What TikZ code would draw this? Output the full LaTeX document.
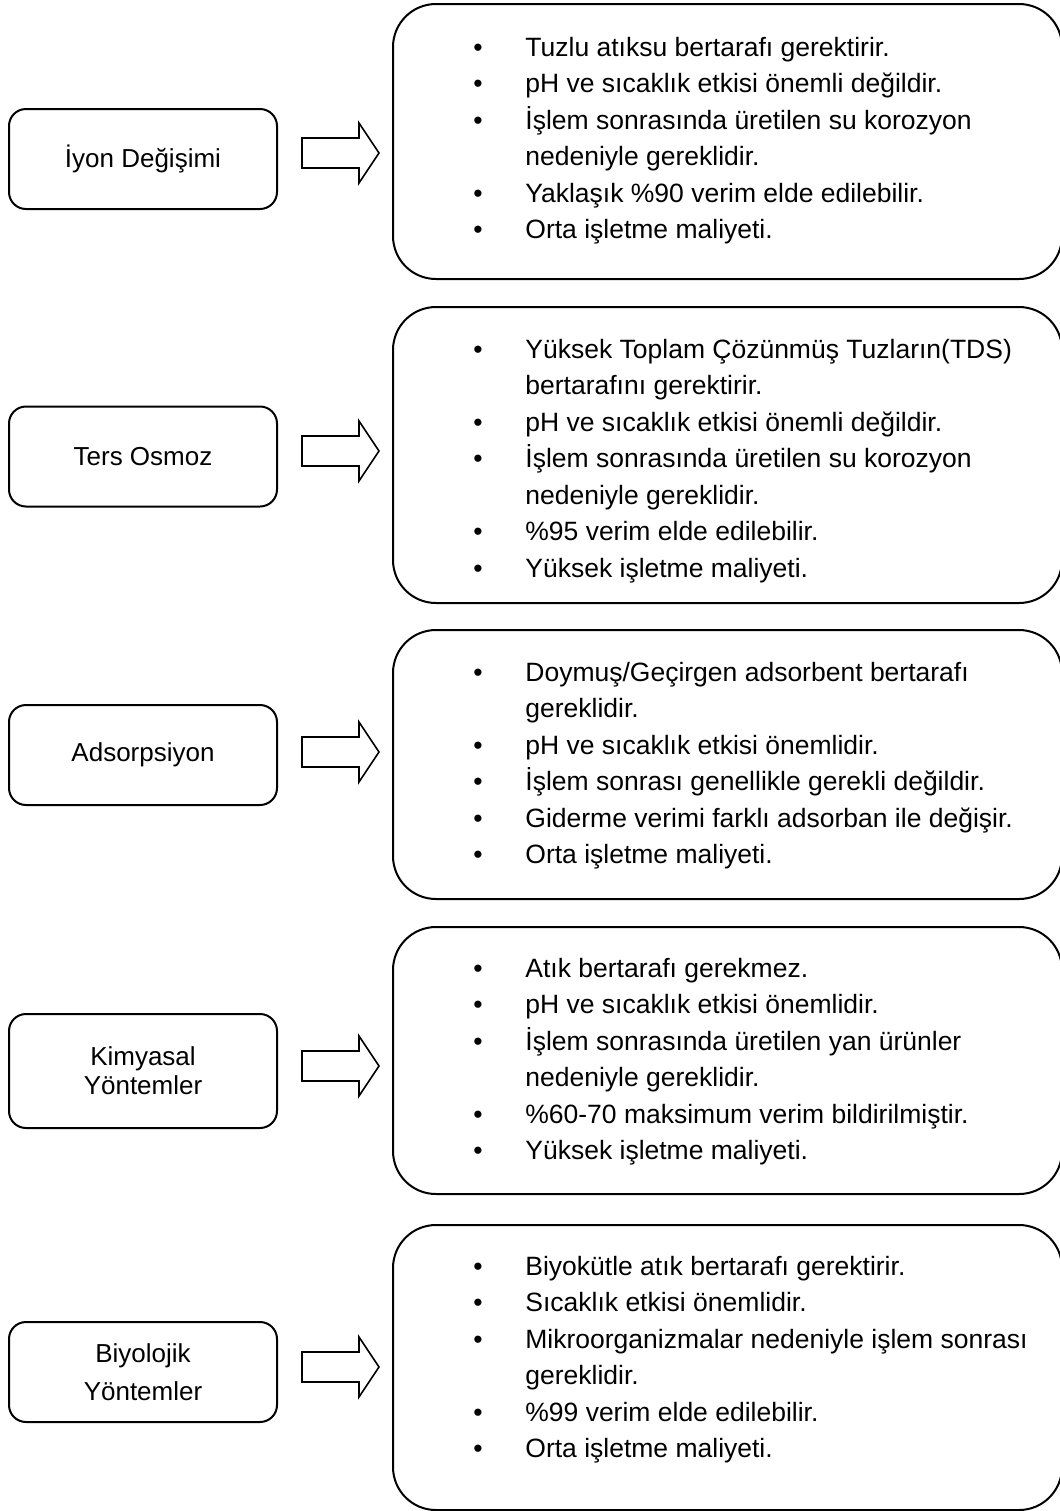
\documentclass[tikz,border=0pt]{standalone}
\usepackage{fontspec}
\setmainfont{Liberation Sans}
\usetikzlibrary{positioning}

\newcommand{\blt}{\makebox[26pt][l]{•}}
\newcommand{\cnt}{\hspace*{26pt}}
\newcommand{\toprule}{\rule{0pt}{13pt}}

\begin{document}
\begin{tikzpicture}[
      x=0.5pt, y=-0.5pt,
      method/.style={draw, line width=1pt, rounded corners=8.5pt, minimum width=134pt,
        minimum height=50pt, align=center, inner sep=0pt, font=\fontsize{13}{15}\selectfont},
      listbox/.style={draw, line width=1pt, rounded corners=21.5pt, minimum width=334.5pt, inner sep=0pt},
      items/.style={anchor=north west, align=left, inner sep=0pt, font=\fontsize{13.25}{18.25}\selectfont},
      blockarrow/.style={draw, line width=0.8pt, line join=miter}
    ]
      \useasboundingbox (0,0) rectangle (1060,1511);

      % methods on the left
      \node[method] (m1) at (143,159) {İyon Değişimi};
      \node[method] (m2) at (143,456.5) {Ters Osmoz};
      \node[method] (m3) at (143,755) {Adsorpsiyon};
      \node[method, minimum height=57pt, font=\fontsize{13}{14.5}\selectfont] (m4) at (143,1071) {Kimyasal\\Yöntemler};
      \node[method, font=\fontsize{13}{19}\selectfont] (m5) at (143,1372) {Biyolojik\\Yöntemler};

      % boxes on the right
      \node[listbox, minimum height=137.5pt] (l1) at (727.5,141.5) {};
      \node[listbox, minimum height=148pt] (l2) at (727.5,455) {};
      \node[listbox, minimum height=134.5pt] (l3) at (727.5,764.5) {};
      \node[listbox, minimum height=133.5pt] (l4) at (727.5,1060.5) {};
      \node[listbox, minimum height=142.5pt] (l5) at (727.5,1367.5) {};

      \node[items] (t1) at ([xshift=40.5pt, yshift=-13.5pt]l1.north west) {%
        \toprule\blt Tuzlu atıksu bertarafı gerektirir.\\
        \blt pH ve sıcaklık etkisi önemli değildir.\\
        \blt İşlem sonrasında üretilen su korozyon\\
        \cnt nedeniyle gereklidir.\\
        \blt Yaklaşık \%90 verim elde edilebilir.\\
        \blt Orta işletme maliyeti.};
      \node[items] (t2) at ([xshift=40.5pt, yshift=-13pt]l2.north west) {%
        \toprule\blt Yüksek Toplam Çözünmüş Tuzların(TDS)\\
        \cnt bertarafını gerektirir.\\
        \blt pH ve sıcaklık etkisi önemli değildir.\\
        \blt İşlem sonrasında üretilen su korozyon\\
        \cnt nedeniyle gereklidir.\\
        \blt \%95 verim elde edilebilir.\\
        \blt Yüksek işletme maliyeti.};
      \node[items] (t3) at ([xshift=40.5pt, yshift=-13pt]l3.north west) {%
        \toprule\blt Doymuş/Geçirgen adsorbent bertarafı\\
        \cnt gereklidir.\\
        \blt pH ve sıcaklık etkisi önemlidir.\\
        \blt İşlem sonrası genellikle gerekli değildir.\\
        \blt Giderme verimi farklı adsorban ile değişir.\\
        \blt Orta işletme maliyeti.};
      \node[items] (t4) at ([xshift=40.5pt, yshift=-12.5pt]l4.north west) {%
        \toprule\blt Atık bertarafı gerekmez.\\
        \blt pH ve sıcaklık etkisi önemlidir.\\
        \blt İşlem sonrasında üretilen yan ürünler\\
        \cnt nedeniyle gereklidir.\\
        \blt \%60-70 maksimum verim bildirilmiştir.\\
        \blt Yüksek işletme maliyeti.};
      \node[items] (t5) at ([xshift=40.5pt, yshift=-12.5pt]l5.north west) {%
        \toprule\blt Biyokütle atık bertarafı gerektirir.\\
        \blt Sıcaklık etkisi önemlidir.\\
        \blt Mikroorganizmalar nedeniyle işlem sonrası\\
        \cnt gereklidir.\\
        \blt \%99 verim elde edilebilir.\\
        \blt Orta işletme maliyeti.};

      % block arrows
      \coordinate (a1) at ([xshift=12pt, yshift=3pt]m1.east);
      \coordinate (a2) at ([xshift=12pt, yshift=2.75pt]m2.east);
      \coordinate (a3) at ([xshift=12pt, yshift=1.5pt]m3.east);
      \coordinate (a4) at ([xshift=12pt, yshift=2.5pt]m4.east);
      \coordinate (a5) at ([xshift=12pt, yshift=2.5pt]m5.east);
      \draw[blockarrow] (a1) ++(0,-15) -- ++(57,0) -- ++(0,-15) -- ++(20,30) -- ++(-20,30) -- ++(0,-15) -- ++(-57,0) -- cycle;
      \draw[blockarrow] (a2) ++(0,-15) -- ++(57,0) -- ++(0,-15) -- ++(20,30) -- ++(-20,30) -- ++(0,-15) -- ++(-57,0) -- cycle;
      \draw[blockarrow] (a3) ++(0,-15) -- ++(57,0) -- ++(0,-15) -- ++(20,30) -- ++(-20,30) -- ++(0,-15) -- ++(-57,0) -- cycle;
      \draw[blockarrow] (a4) ++(0,-15) -- ++(57,0) -- ++(0,-15) -- ++(20,30) -- ++(-20,30) -- ++(0,-15) -- ++(-57,0) -- cycle;
      \draw[blockarrow] (a5) ++(0,-15) -- ++(57,0) -- ++(0,-15) -- ++(20,30) -- ++(-20,30) -- ++(0,-15) -- ++(-57,0) -- cycle;
    \end{tikzpicture}
\end{document}
